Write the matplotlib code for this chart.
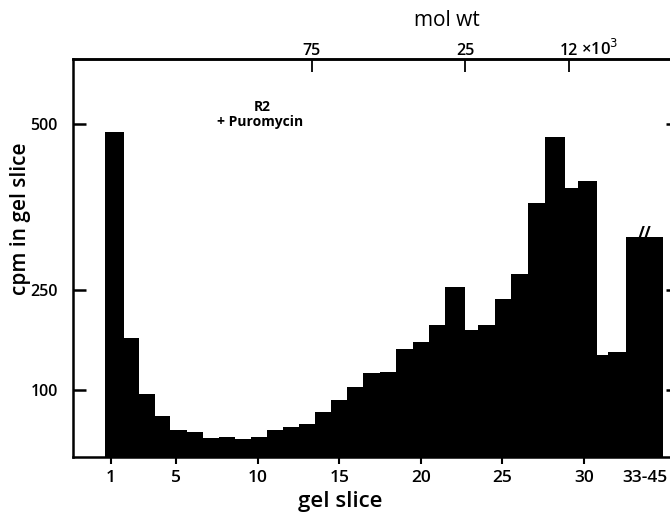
import numpy as np
import matplotlib
matplotlib.use("Agg")
from matplotlib import pyplot as plt

plt.rcParams["font.family"] = ["Open Sans", "DejaVu Sans"]

slice_edges = [0.63, 1.80, 2.72, 3.70, 4.62, 5.66, 6.64, 7.63, 8.61, 9.59,
               10.57, 11.55, 12.53, 13.52, 14.50, 15.48, 16.46, 17.50, 18.48,
               19.53, 20.51, 21.49, 22.72, 23.52, 24.56, 25.54, 26.58, 27.63,
               28.85, 29.65, 30.82, 31.49, 32.60, 34.87]
cpm = [488, 178, 95, 61, 40, 37, 28, 30, 27, 30, 40, 45, 49, 67, 85, 105,
       126, 128, 162, 173, 198, 255, 191, 198, 237, 275, 381, 480, 404, 414,
       153, 158, 330]

y_ticks = [100, 250, 500]
x_ticks = [1, 5, 10, 15, 20, 25, 30]
x_labels = ["1", "5", "10", "15", "20", "25", "30"]
mw_ticks = [13.33, 22.72, 29.1]
mw_labels = ["75", "25", "12"]

edges = np.array(slice_edges)
widths = np.diff(edges)

fig = plt.figure(figsize=(6.7, 5.15), dpi=100)
ax = fig.add_axes([73 / 670, 58 / 515, 597 / 670, 398 / 515])

ax.bar(edges[:-1], cpm, width=widths, align="edge", color="black", linewidth=0)

ax.set_xlim(-1.33, 35.29)
ax.set_ylim(0, 597)

last_center = (edges[-2] + edges[-1]) / 2
ax.set_xticks(x_ticks + [last_center])
ax.set_xticklabels(x_labels + ["33-45"], fontsize=12.5, fontweight="semibold")
ax.tick_params(axis="x", direction="out", length=5, width=1.5, pad=4)
ax.get_xticklines()[-2].set_visible(False)

ax.set_yticks(y_ticks)
ax.set_yticklabels(["100", "250", "500"], fontsize=11.5, fontweight="semibold")
ax.tick_params(axis="y", direction="in", length=9, width=1.8, pad=11, right=True)
for t in ax.yaxis.get_major_ticks():
    t.tick2line.set_markersize(3)

for s in ["left", "top", "bottom"]:
    ax.spines[s].set_linewidth(1.8)
ax.spines["right"].set_visible(False)

top = ax.secondary_xaxis("top")
top.set_xticks(mw_ticks)
top.set_xticklabels(mw_labels, fontsize=11.5, fontweight="semibold")
top.tick_params(direction="in", length=9, width=1.3, pad=0)
top.spines["top"].set_linewidth(1.8)

ax.annotate(" ×10$^{3}$", xy=(mw_ticks[2], 597), xytext=(6, 0),
            textcoords="offset points", ha="left", va="bottom",
            fontsize=12, fontweight="semibold", annotation_clip=False)

ax.text(10.3, 525, "R2", ha="center", va="center", fontsize=10, fontweight="bold")
ax.text(10.14, 503, "+ Puromycin", ha="center", va="center", fontsize=10, fontweight="bold")
ax.annotate("//", xy=(last_center, cpm[-1]), xytext=(0, -4), textcoords="offset points",
            ha="center", va="bottom", fontsize=12, fontweight="bold")

fig.text(447 / 670, 1 - 21 / 515, "mol wt", ha="center", va="center", fontsize=15)
fig.text(340 / 670, 1 - 502 / 515, "gel slice", ha="center", va="center",
         fontsize=16, fontweight="semibold")
fig.text(21 / 670, 1 - 219 / 515, "cpm in gel slice", ha="center", va="center",
         rotation=90, fontsize=15, fontweight="semibold")

fig.savefig("out.png", dpi=100)
